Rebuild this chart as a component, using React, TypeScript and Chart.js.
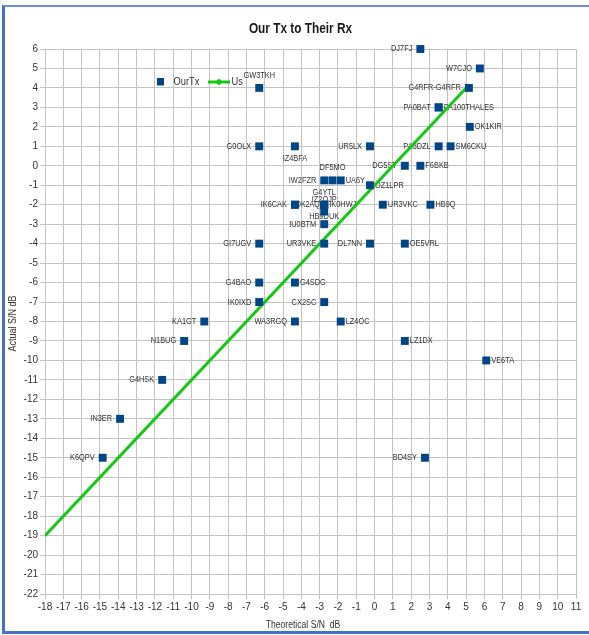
import React, { useEffect, useRef } from 'react';
import { Chart, registerables } from 'chart.js';

Chart.register(...registerables);

// ---- data ----
const callsigns = [
  'DJ7FJ', 'W7CJO', 'G4RFR-G4RFR', 'PA0BAT', 'PA100THALES', 'OK1KIR', 'PA3DZL', 'SM6CKU',
  'UR5LX', 'DG5ST', 'F6BKB', 'OZ1LPR', 'UR3VKC', 'HB9Q', 'IW2FZR', 'DF5MO', 'UA6Y',
  'G4YTL', 'IZ2QJP', 'IK0HWJ', 'HB9DUK', 'IU0BTM', 'IK6CAK', 'OK2AQ', 'GI7UGV', 'UR3VKE',
  'DL7NN', 'OE5VRL', 'G4BAO', 'G4SDG', 'IK0IXD', 'CX2SC', 'WA3RGQ', 'LZ4OC', 'LZ1DX',
  'KA1GT', 'N1BUG', 'G4HSK', 'IN3ER', 'K6QPV', 'VE6TA', 'BD4SY', 'GW3TKH', 'G0OLX', 'IZ4BFA',
];
const theoreticalSN = [
  2.5, 5.75, 5.15, 3.5, 3.5, 5.2, 3.5, 4.15,
  -0.25, 1.65, 2.5, -0.25, 0.45, 3.05, -2.75, -2.3, -1.85,
  -2.75, -2.75, -2.75, -2.75, -2.75, -4.35, -4.35, -6.3, -2.75,
  -0.25, 1.65, -6.3, -4.35, -6.3, -2.75, -4.35, -1.85, 1.65,
  -9.3, -10.4, -11.6, -13.9, -14.85, 6.1, 2.75, -6.3, -6.3, -4.35,
];
const actualSN = [
  6, 5, 4, 3, 3, 2, 1, 1,
  1, 0, 0, -1, -2, -2, -0.75, -0.75, -0.75,
  -2, -2.35, -2, -2, -3, -2, -2, -4, -4,
  -4, -4, -6, -6, -7, -7, -8, -8, -9,
  -8, -9, -11, -13, -15, -10, -15, 4, 1, 1,
];
// label placement (style only)
const labelSides = [
  'left', 'left', 'left', 'left', 'right', 'right', 'left', 'right',
  'left', 'left', 'right', 'right', 'right', 'right', 'left', 'top', 'right',
  'top', 'top', 'right', 'bottom', 'left', 'left', 'under', 'left', 'left',
  'left', 'right', 'left', 'right', 'left', 'left', 'left', 'right', 'right',
  'left', 'left', 'left', 'left', 'left', 'right', 'left', 'top', 'left', 'bottom',
];
const usTheoretical = [-18, 5];
const usActual = [-19, 4];
const xMin = -18;
const xMax = 11;
const yMin = -22;
const yMax = 6;

const seriesNames = ['OurTx', 'Us'];
const titleText = 'Our Tx to Their Rx';
const xTitle = 'Theoretical S/N  dB';
const yTitle = 'Actual S/N dB';

const BLUE = '#004586';
const GREEN = '#14c814';
const GRID = '#c3c3c3';
const TEXT = '#333333';
const FONT = '"Liberation Sans", Arial, sans-serif';

function drawText(
  ctx: CanvasRenderingContext2D,
  text: string,
  x: number,
  y: number,
  font: string,
  align: CanvasTextAlign,
  sx: number,
  color: string,
  rotate = 0,
) {
  ctx.save();
  ctx.font = font;
  ctx.fillStyle = color;
  ctx.textAlign = align;
  ctx.textBaseline = 'middle';
  ctx.translate(x, y);
  if (rotate) ctx.rotate(rotate);
  ctx.scale(sx, 1);
  ctx.fillText(text, 0, 0);
  ctx.restore();
}

const decorPlugin = {
  id: 'decor',
  beforeDatasetsDraw(chart: any) {
    const ctx: CanvasRenderingContext2D = chart.ctx;
    const meta = chart.getDatasetMeta(0);
    const font = `9px ${FONT}`;
    meta.data.forEach((el: any, i: number) => {
      const { x, y } = el.getProps(['x', 'y'], true);
      const side = labelSides[i];
      const t = callsigns[i];
      if (side === 'left') drawText(ctx, t, x - 8, y, font, 'right', 0.82, TEXT);
      else if (side === 'right') drawText(ctx, t, x + 5, y, font, 'left', 0.82, TEXT);
      else if (side === 'under') drawText(ctx, t, x + 0.5, y, font, 'left', 0.78, TEXT);
      else if (side === 'top') drawText(ctx, t, x, y - 12.5, font, 'center', 0.82, TEXT);
      else drawText(ctx, t, x, y + 12, font, 'center', 0.82, TEXT);
    });
  },
  afterDraw(chart: any) {
    const ctx: CanvasRenderingContext2D = chart.ctx;
    const area = chart.chartArea;
    // title
    drawText(ctx, titleText, 300.5, 29.5, `bold 14px ${FONT}`, 'center', 0.845, '#1a1a1a');
    // axis titles
    drawText(ctx, xTitle, 303, 625, `10px ${FONT}`, 'center', 0.86, TEXT);
    drawText(ctx, yTitle, 13.5, (area.top + area.bottom) / 2 + 2, `10px ${FONT}`, 'center', 0.9, TEXT, -Math.PI / 2);
    // legend
    ctx.save();
    ctx.fillStyle = BLUE;
    ctx.fillRect(157, 78, 7, 7.5);
    ctx.strokeStyle = GREEN;
    ctx.lineWidth = 3;
    ctx.beginPath();
    ctx.moveTo(208, 82);
    ctx.lineTo(230, 82);
    ctx.stroke();
    ctx.fillStyle = GREEN;
    ctx.beginPath();
    ctx.moveTo(219, 78.5);
    ctx.lineTo(222.5, 82);
    ctx.lineTo(219, 85.5);
    ctx.lineTo(215.5, 82);
    ctx.closePath();
    ctx.fill();
    ctx.restore();
    drawText(ctx, seriesNames[0], 173.5, 82, `10px ${FONT}`, 'left', 0.93, TEXT);
    drawText(ctx, seriesNames[1], 231.5, 82, `10px ${FONT}`, 'left', 0.93, TEXT);
  },
};

export default function App() {
  const ref = useRef<HTMLCanvasElement>(null);

  useEffect(() => {
    const canvas = ref.current;
    if (!canvas) return;
    const ourPoints = theoreticalSN.map((x, i) => ({ x, y: actualSN[i] }));
    const usPoints = usTheoretical.map((x, i) => ({ x, y: usActual[i] }));
    const tickFont = { family: FONT, size: 10 };
    const chart = new Chart(canvas, {
      type: 'scatter',
      data: {
        datasets: [
          {
            label: seriesNames[0],
            data: ourPoints,
            pointStyle: 'rect',
            pointRadius: 5.6,
            pointHoverRadius: 5.6,
            backgroundColor: BLUE,
            borderColor: BLUE,
            borderWidth: 0,
            showLine: false,
            clip: false,
          },
          {
            label: seriesNames[1],
            data: usPoints,
            showLine: true,
            borderColor: GREEN,
            borderWidth: 3,
            pointRadius: 0,
            pointHoverRadius: 0,
            backgroundColor: GREEN,
          },
        ],
      },
      options: {
        responsive: false,
        animation: false,
        layout: { padding: { top: 49, right: 13, bottom: 0, left: 0 } },
        plugins: {
          legend: { display: false },
          title: { display: false },
          tooltip: { enabled: false },
        },
        scales: {
          x: {
            type: 'linear',
            min: xMin,
            max: xMax,
            ticks: {
              stepSize: 1,
              autoSkip: false,
              maxRotation: 0,
              font: tickFont,
              color: TEXT,
              padding: 2,
            },
            grid: { color: GRID, tickColor: GRID, tickLength: 5 },
            border: { color: GRID },
            afterFit: (scale: any) => {
              scale.height = 41;
            },
          },
          y: {
            type: 'linear',
            min: yMin,
            max: yMax,
            ticks: {
              stepSize: 1,
              autoSkip: false,
              font: tickFont,
              color: TEXT,
              padding: 2,
            },
            grid: { color: GRID, tickColor: GRID, tickLength: 5 },
            border: { color: GRID },
            afterFit: (scale: any) => {
              scale.width = 45;
            },
          },
        },
      },
      plugins: [decorPlugin],
    } as any);
    return () => chart.destroy();
  }, []);

  return (
    <div
      style={{
        position: 'fixed',
        left: 0,
        top: 0,
        width: 589,
        height: 635,
        overflow: 'hidden',
        background: '#ffffff',
      }}
    >
      <div
        style={{
          position: 'absolute',
          left: 2,
          top: 5,
          width: 640,
          height: 624,
          borderTop: '2px solid #6a8fd3',
          borderLeft: '3px solid #4472c4',
          borderBottom: '3px solid #4472c4',
        }}
      />
      <canvas
        ref={ref}
        width={589}
        height={635}
        style={{ position: 'absolute', left: 0, top: 0, width: 589, height: 635 }}
      />
    </div>
  );
}
